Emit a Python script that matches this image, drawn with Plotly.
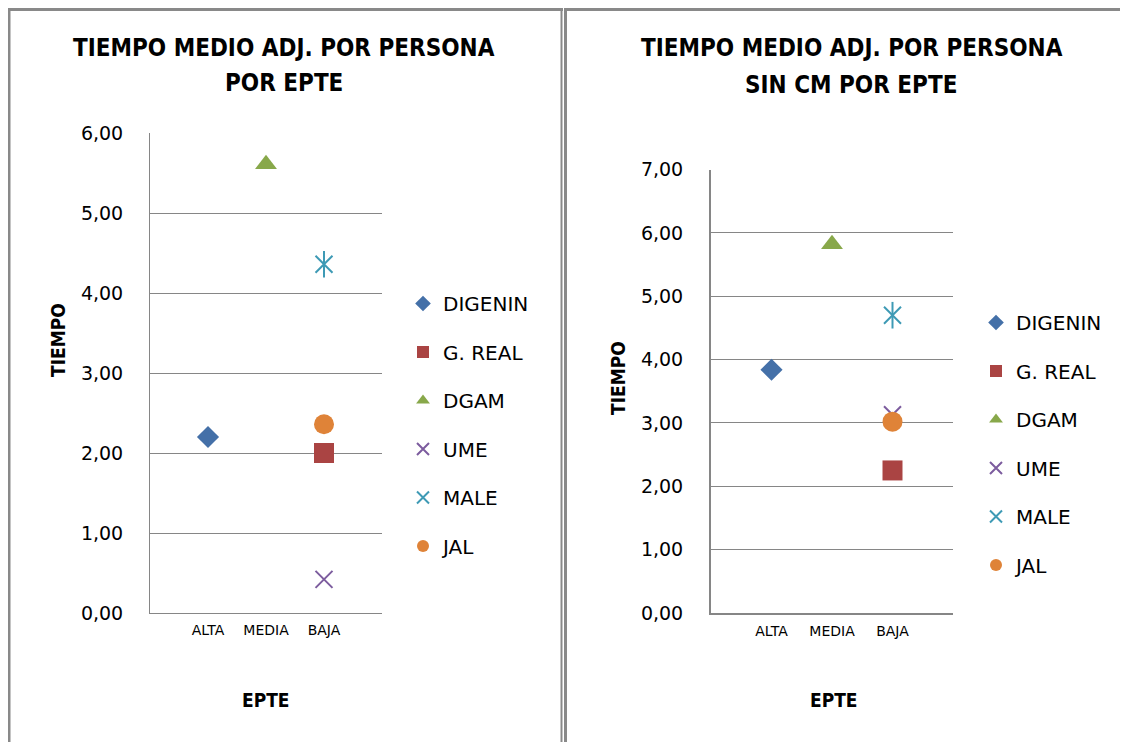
import plotly.graph_objects as go

# ---------------- data ----------------
categories = ["ALTA", "MEDIA", "BAJA"]
series_names = ["DIGENIN", "G. REAL", "DGAM", "UME", "MALE", "JAL"]
series_cat = ["ALTA", "BAJA", "MEDIA", "BAJA", "BAJA", "BAJA"]
values_con_cm = [2.20, 2.00, 5.61, 0.42, 4.36, 2.36]
values_sin_cm = [3.84, 2.25, 5.82, 3.13, 4.70, 3.02]
yticks_left = [0, 1, 2, 3, 4, 5, 6]
yticks_right = [0, 1, 2, 3, 4, 5, 6, 7]
title_left = ["TIEMPO MEDIO ADJ. POR PERSONA", "POR EPTE"]
title_right = ["TIEMPO MEDIO ADJ. POR PERSONA", "SIN CM POR EPTE"]

# ---------------- styles ----------------
colors = ["#4470A8", "#AA4443", "#88A84A", "#7C5C9E", "#3E9AB5", "#DF8338"]
symbols = ["diamond", "square", "triangle-up", "x-thin-open", "x-thin-open", "circle"]
sizes = [17, 20, 19, 17, 17, 20]

# page body has an 8px margin: the figure is sized to fit the window exactly
OFF = 8
W, H = 1128 - OFF, 742 - OFF
def px(x):
    return (x - OFF) / W
def py(y):
    return 1 - (y - OFF) / H

TICKFONT = "DejaVu Sans"
BOLDFONT = "Liberation Sans Narrow, DejaVu Sans Condensed, DejaVu Sans, sans-serif"
GRID = "#868686"

fig = go.Figure()

def add_chart(values, xa, ya, legend):
    for i, name in enumerate(series_names):
        xpos = categories.index(series_cat[i]) + 1
        grp = legend + name
        fig.add_trace(go.Scatter(
            x=[xpos], y=[values[i]], mode="markers", name=name,
            xaxis=xa, yaxis=ya, legend=legend, legendgroup=grp,
            marker=dict(symbol=symbols[i], size=sizes[i], color=colors[i],
                        line=dict(width=2, color=colors[i]) if "open" in symbols[i] else dict(width=0)),
            hoverinfo="skip"))
        if name == "MALE":
            fig.add_trace(go.Scatter(
                x=[xpos], y=[values[i]], mode="markers", name=name,
                xaxis=xa, yaxis=ya, legend=legend, legendgroup=grp, showlegend=False,
                marker=dict(symbol="line-ns-open", size=sizes[i] + 2, color=colors[i],
                            line=dict(width=2, color=colors[i])),
                hoverinfo="skip"))

add_chart(values_con_cm, "x", "y", "legend")
add_chart(values_sin_cm, "x2", "y2", "legend2")

xcommon = dict(range=[0, 4], tickvals=[1, 2, 3], ticktext=categories,
               showgrid=False, zeroline=False, showline=True, linecolor=GRID,
               tickfont=dict(family=TICKFONT, size=14, color="#000"), ticks="",
               ticklabelstandoff=4, fixedrange=True, automargin=False)
ycommon = dict(showgrid=True, gridcolor=GRID, gridwidth=1, zeroline=False,
               showline=True, linecolor=GRID, tickformat=".2f", ticks="",
               tickfont=dict(family=TICKFONT, size=19, color="#000"),
               ticklabelstandoff=22, fixedrange=True, automargin=False)

legend_common = dict(xanchor="left", yanchor="top",
                     font=dict(family=TICKFONT, size=20, color="#000"),
                     traceorder="grouped", tracegroupgap=19.5, bgcolor="rgba(0,0,0,0)",
                     itemsizing="constant", itemclick=False, itemdoubleclick=False)

fig.update_layout(
    width=W, height=H, autosize=False,
    margin=dict(l=0, r=0, t=0, b=0, pad=0, autoexpand=False),
    paper_bgcolor="white", plot_bgcolor="white", separators=",.",
    xaxis=dict(domain=[px(150), px(382)], anchor="y", **xcommon),
    yaxis=dict(domain=[py(613), py(133)], anchor="x", range=[0, 6], tickvals=yticks_left, **ycommon),
    xaxis2=dict(domain=[px(711), px(953)], anchor="y2", linewidth=2, **xcommon),
    yaxis2=dict(domain=[py(613), py(169.5)], anchor="x2", range=[0, 7], tickvals=yticks_right,
                linewidth=2, **ycommon),
    legend=dict(x=px(403), y=py(284), **legend_common),
    legend2=dict(x=px(976), y=py(303), **legend_common),
)

annos = [
    dict(text="<b>" + title_left[0] + "</b>", x=px(284), y=py(48), size=24),
    dict(text="<b>" + title_left[1] + "</b>", x=px(284), y=py(83), size=24),
    dict(text="<b>" + title_right[0] + "</b>", x=px(852), y=py(48), size=24),
    dict(text="<b>" + title_right[1] + "</b>", x=px(851), y=py(85), size=24),
    dict(text="<b>TIEMPO</b>", x=px(58), y=py(340), size=19, angle=-90),
    dict(text="<b>TIEMPO</b>", x=px(618), y=py(378), size=19, angle=-90),
    dict(text="<b>EPTE</b>", x=px(266), y=py(700), size=19),
    dict(text="<b>EPTE</b>", x=px(834), y=py(700), size=19),
]
for a in annos:
    fig.add_annotation(text=a["text"], x=a["x"], y=a["y"], xref="paper", yref="paper",
                       xanchor="center", yanchor="middle", showarrow=False,
                       textangle=a.get("angle", 0),
                       font=dict(family=BOLDFONT, size=a["size"], color="#000"))

# panel borders
BORDER = "#898989"
for x0, x1, y0, y1, w in [(9, 9, 8, 750, 3), (8, 563, 9.5, 9.5, 3), (561.5, 561.5, 8, 750, 2),
                          (565.5, 565.5, 8, 750, 3), (564, 1130, 9.5, 9.5, 3)]:
    fig.add_shape(type="line", xref="paper", yref="paper",
                  x0=px(x0), x1=px(x1), y0=py(y0), y1=py(y1),
                  line=dict(color=BORDER, width=w))

fig.write_html("out.html")
